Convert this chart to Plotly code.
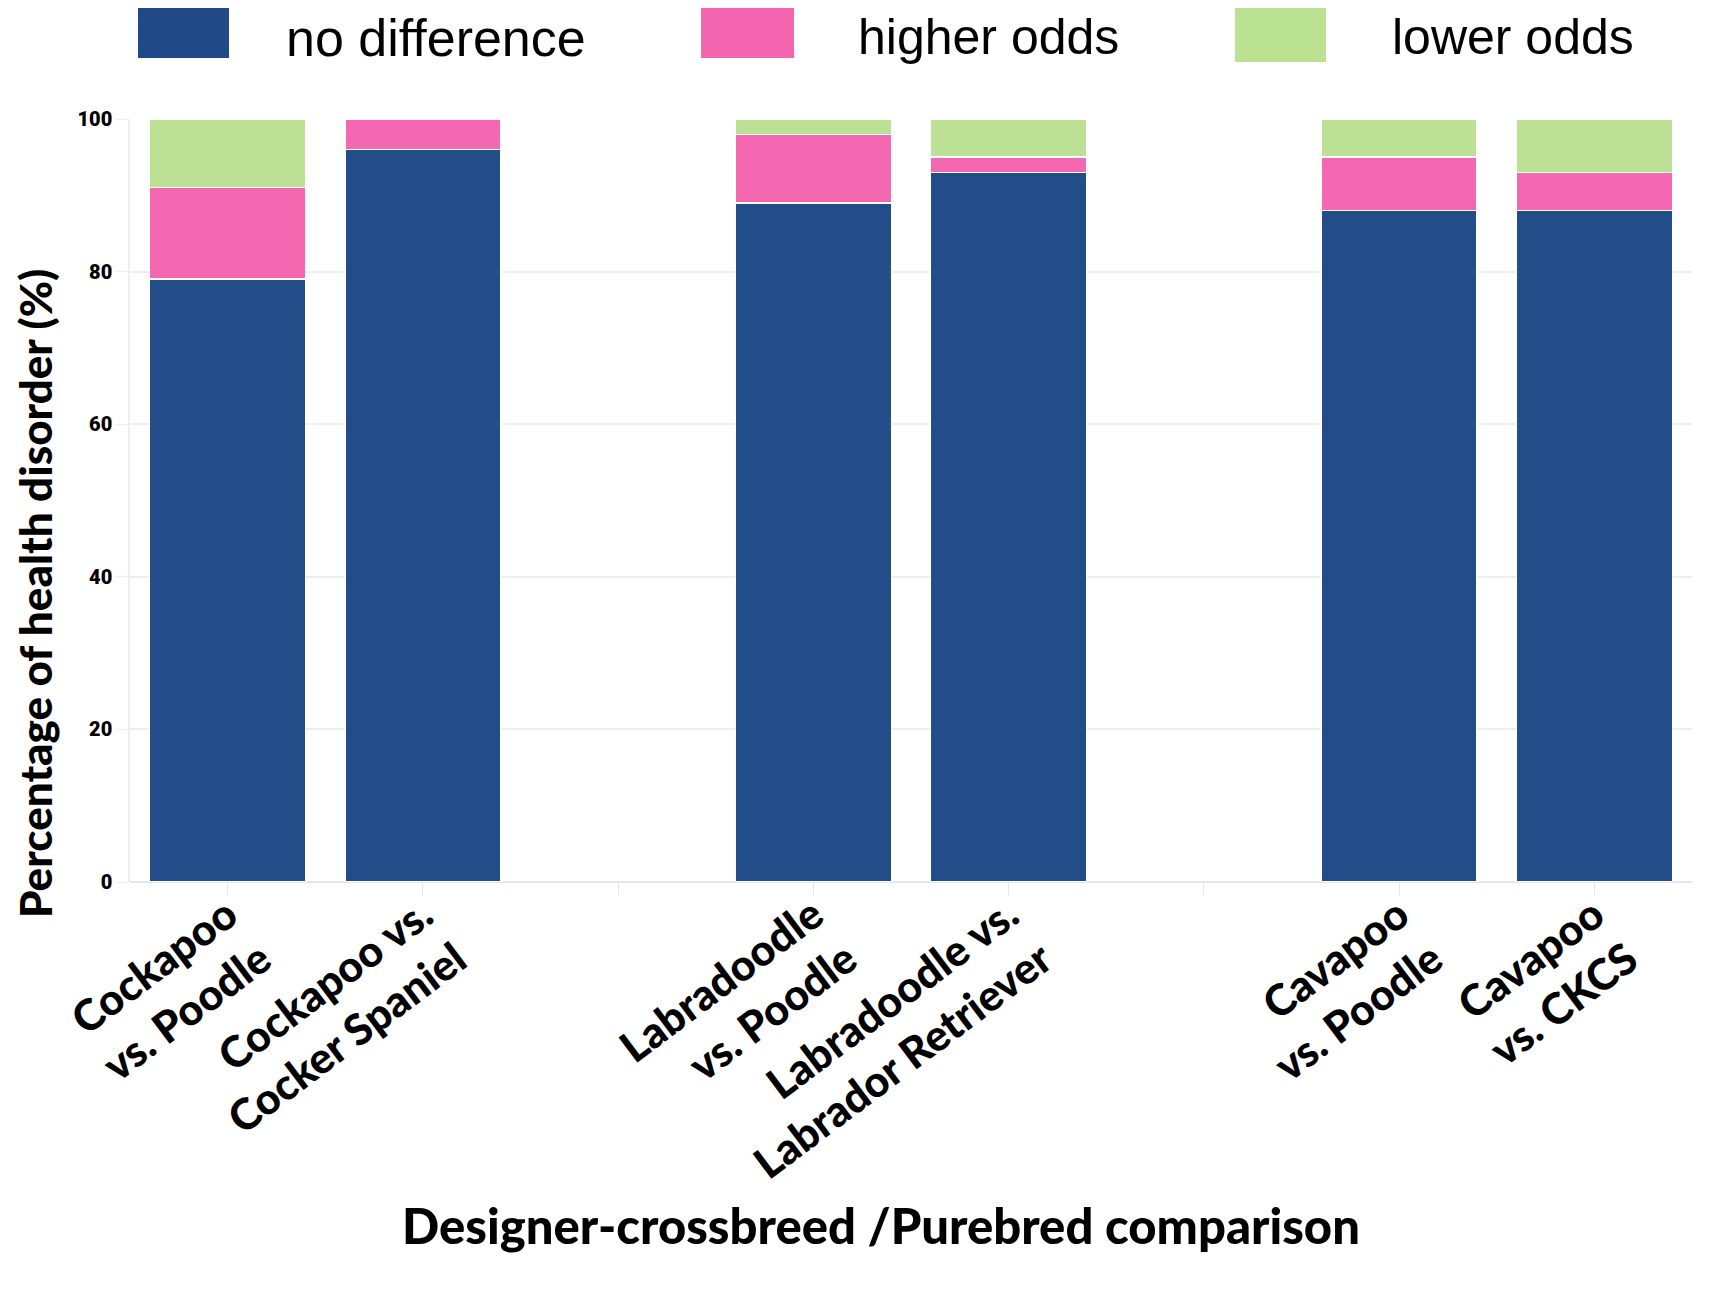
import plotly.graph_objects as go

categories = [
    "Cockapoo<br>vs. Poodle",
    "Cockapoo vs.<br>Cocker Spaniel",
    " ",
    "Labradoodle<br>vs. Poodle",
    "Labradoodle vs.<br>Labrador Retriever",
    "  ",
    "Cavapoo<br>vs. Poodle",
    "Cavapoo<br>vs. CKCS",
]
no_difference = [79, 96, None, 89, 93, None, 88, 88]
higher_odds = [12, 4, None, 9, 2, None, 7, 5]
lower_odds = [9, 0, None, 2, 5, None, 5, 7]

series_names = ["no difference", "higher odds", "lower odds"]
series_values = [no_difference, higher_odds, lower_odds]
colors = ["#1F4A87", "#F366AF", "#BBE193"]

y_ticks = [0, 20, 40, 60, 80, 100]

fig = go.Figure()
for name, vals, col in zip(series_names, series_values, colors):
    fig.add_trace(go.Bar(
        x=categories, y=vals, name=name,
        marker=dict(color=col, line=dict(color="white", width=1.5)),
        opacity=0.98, showlegend=False,
    ))

W, H = 1711, 1296
L, R, T, B = 122, 27, 111, 422
pw, ph = W - L - R, H - T - B

def px(X):
    return (X - L) / pw

def py(Y):
    return (H - B - Y) / ph

# custom legend with large swatches (layout pixel boxes)
legend_boxes = [(130, 221, -8, 50), (693, 786, -8, 50), (1227, 1318, -6, 54)]
legend_text_x = [428, 980, 1505]
legend_font_sizes = [52, 50, 50]
shapes = []
annotations = []
for (x0, x1, y0, y1), tx, fs, name, col in zip(legend_boxes, legend_text_x, legend_font_sizes,
                                                series_names, colors):
    shapes.append(dict(type="rect", xref="paper", yref="paper",
                       x0=px(x0), x1=px(x1), y0=py(y1), y1=py(y0),
                       fillcolor=col, line=dict(width=0)))
    annotations.append(dict(text=name, xref="paper", yref="paper",
                            x=px(tx), y=py(0), xanchor="center", yanchor="top",
                            showarrow=False, borderpad=0,
                            font=dict(family="Liberation Sans", size=fs, color="black")))

annotations.append(dict(text="Designer-crossbreed /Purebred comparison",
                        xref="paper", yref="paper", x=px(873), y=py(1217),
                        xanchor="center", yanchor="middle", showarrow=False,
                        font=dict(family="Lato", size=49, color="black", weight=900)))
annotations.append(dict(text="Percentage of health disorder (%)",
                        xref="paper", yref="paper", x=px(27), y=py(586),
                        xanchor="center", yanchor="middle", showarrow=False,
                        textangle=-90, borderpad=0,
                        font=dict(family="Lato", size=44, color="black", weight=900)))

fig.update_layout(
    width=W, height=H,
    margin=dict(l=L, r=R, t=T, b=B, pad=0),
    barmode="stack", bargap=0.2,
    plot_bgcolor="white", paper_bgcolor="white",
    shapes=shapes, annotations=annotations,
    showlegend=False,
)
fig.update_xaxes(
    type="category", categoryorder="array", categoryarray=categories,
    range=[-0.5, 7.5], tickangle=-37,
    ticks="outside", ticklen=12, tickcolor="#e6e6e6",
    ticklabelstandoff=-22,
    showgrid=False, showline=False,
    tickfont=dict(family="Lato", size=43, color="black", weight=900),
)
fig.update_yaxes(
    range=[0, 100], tickvals=y_ticks,
    ticks="outside", ticklen=12, tickcolor="#eeeeee",
    showgrid=True, gridcolor="#eeeeee", gridwidth=1.5,
    showline=True, linecolor="#eeeeee", linewidth=1.5,
    zeroline=True, zerolinecolor="#e6e6e6", zerolinewidth=1.5,
    tickfont=dict(family="Roboto", size=20, color="black", weight=900),
)

fig.write_html("out.html")
